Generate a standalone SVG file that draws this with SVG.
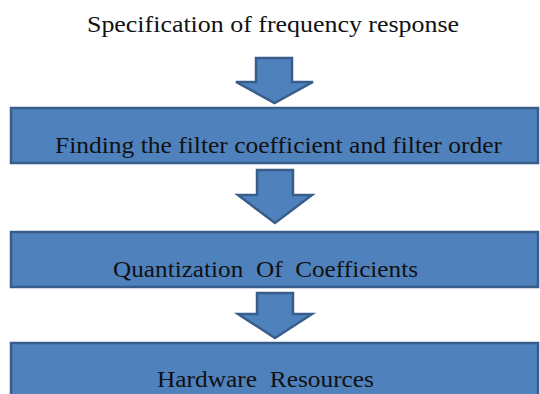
<svg xmlns="http://www.w3.org/2000/svg" width="540" height="394" viewBox="0 0 540 394">
<style>
.box{fill:#4F81BD;stroke:#385D8A;stroke-width:2.5}
.arr{fill:#4F81BD;stroke:#385D8A;stroke-width:2.5;stroke-linejoin:miter}
.t{font-family:"Liberation Serif","Times New Roman",serif;font-size:23px;fill:#111;white-space:pre}
</style>
<rect width="540" height="394" fill="#fff"/>
<g id="title"><text class="t" x="87" y="32" textLength="372" lengthAdjust="spacingAndGlyphs">Specification of frequency response</text></g>
<g id="connectors">
<polygon class="arr" points="256,58 292,58 292,82 313,82 274.5,103 236,82 256,82"/>
<polygon class="arr" points="257,170 293,170 293,195 312,195 275,223 238,195 257,195"/>
<polygon class="arr" points="257,293 293,293 293,314 312,314 275,338 238,314 257,314"/>
</g>
<g id="node1"><rect class="box" x="11" y="108" width="527" height="55"/><text class="t" x="55" y="153" textLength="447" lengthAdjust="spacingAndGlyphs">Finding the filter coefficient and filter order</text></g>
<g id="node2"><rect class="box" x="11" y="232" width="527" height="55"/><text class="t" x="113" y="277" textLength="305" lengthAdjust="spacingAndGlyphs">Quantization  Of  Coefficients</text></g>
<g id="node3"><rect class="box" x="11" y="343" width="527" height="60"/><text class="t" x="157" y="387" textLength="217" lengthAdjust="spacingAndGlyphs">Hardware  Resources</text></g>
</svg>
